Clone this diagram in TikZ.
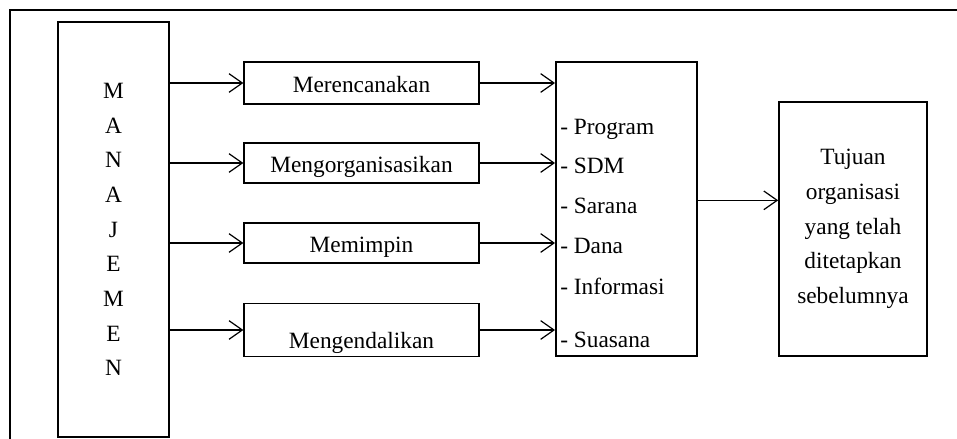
\documentclass[tikz,border=0pt]{standalone}
\usepackage{fontspec}
\setmainfont{Liberation Serif}
\usetikzlibrary{arrows.meta}
\begin{document}
\begin{tikzpicture}[x=0.75pt, y=-0.75pt,
    every node/.style={font=\fontsize{17.5}{26}\selectfont},
    box/.style={draw, line width=1.2pt, inner ysep=2pt, text height=18pt, text depth=4pt, minimum width=176pt, minimum height=30pt},
    item/.style={anchor=base west, inner sep=0pt},
    arr/.style={line width=0.9pt, -{Straight Barb[length=10pt, width=14pt, line width=0.9pt]}}]
       \useasboundingbox (0,0) rectangle (957,439);
       \draw[line width=1.5pt] (957,10) -- (10,10) -- (10,439);
       \node[draw, line width=1.2pt, align=center, minimum width=83pt, minimum height=311pt] (man) at (113.5,229.5) {M\\A\\N\\A\\J\\E\\M\\E\\N};
       \node[box, minimum height=31.5pt] (plan) at (361.5,83) {Merencanakan};
       \node[box] (org) at (361.5,163) {Mengorganisasikan};
       \node[box] (lead) at (361.5,243) {Memimpin};
       \node[box, minimum height=40pt, text height=31pt] (ctrl) at (361.5,330) {Mengendalikan};
       \node[draw, line width=1.2pt, minimum width=106pt, minimum height=220.5pt] (res) at (626.5,209) {};
       \node[item] (i1) at (560,134) {- Program};
       \node[item] (i2) at (560,173) {- SDM};
       \node[item] (i3) at (560,213) {- Sarana};
       \node[item] (i4) at (560,253) {- Dana};
       \node[item] (i5) at (560,294) {- Informasi};
       \node[item] (i6) at (560,347) {- Suasana};
       \node[draw, line width=1.2pt, align=center, minimum width=111pt, minimum height=190.5pt] (goal) at (853,229) {Tujuan\\organisasi\\yang telah\\ditetapkan\\sebelumnya};

       \foreach \b in {plan,org,lead,ctrl}{\draw[arr] (man.east |- \b.west) -- (\b.west);
         \draw[arr] (\b.east) -- (res.west |- \b.east); }
       \coordinate (r) at ([yshift=6.5pt]res.east);
       \draw[arr] (r) -- (r -| goal.west);
     \end{tikzpicture}
\end{document}
